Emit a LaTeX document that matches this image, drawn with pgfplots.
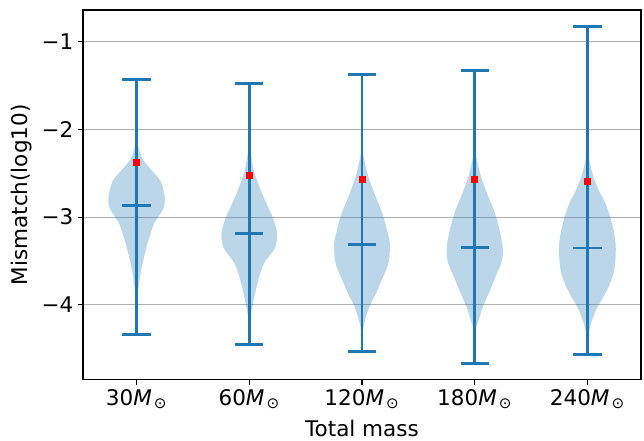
\documentclass[border=0pt]{standalone}
\usepackage{fontspec}
\setmainfont{DejaVu Sans}
\usepackage{pgfplots}
\pgfplotsset{compat=1.18}
\usepackage{pgfplotstable}
\definecolor{c0}{HTML}{1F77B4}
\definecolor{gridgray}{HTML}{B0B0B0}

% violin half-widths (x units) versus value
\pgfplotstableread{
y w
-2.095 0
-2.239 0.024
-2.352 0.060
-2.466 0.134
-2.580 0.208
-2.693 0.238
-2.769 0.250
-2.883 0.244
-2.997 0.193
-3.072 0.155
-3.186 0.125
-3.338 0.089
-3.489 0.060
-3.640 0.036
-3.792 0.018
-3.867 0.006
-3.943 0
}\vA
\pgfplotstableread{
y w
-2.144 0
-2.315 0.018
-2.466 0.039
-2.580 0.068
-2.731 0.113
-2.920 0.179
-3.034 0.217
-3.186 0.247
-3.338 0.232
-3.451 0.173
-3.527 0.131
-3.640 0.098
-3.792 0.065
-3.943 0.039
-4.057 0.021
-4.170 0.006
-4.227 0
}\vB
\pgfplotstableread{
y w
-2.201 0
-2.352 0.021
-2.542 0.057
-2.731 0.110
-2.920 0.170
-3.034 0.199
-3.186 0.229
-3.299 0.247
-3.489 0.241
-3.602 0.214
-3.716 0.176
-3.867 0.125
-3.981 0.080
-4.095 0.045
-4.208 0.021
-4.300 0.006
-4.340 0
}\vC
\pgfplotstableread{
y w
-2.182 0
-2.352 0.021
-2.542 0.057
-2.731 0.110
-2.920 0.170
-3.110 0.214
-3.299 0.244
-3.413 0.250
-3.527 0.235
-3.678 0.185
-3.867 0.125
-4.019 0.074
-4.170 0.036
-4.284 0.006
-4.320 0
}\vD
\pgfplotstableread{
y w
-2.239 0
-2.390 0.024
-2.542 0.054
-2.693 0.101
-2.845 0.161
-2.997 0.202
-3.148 0.232
-3.299 0.250
-3.451 0.250
-3.602 0.238
-3.754 0.202
-3.906 0.143
-4.057 0.077
-4.208 0.033
-4.322 0.012
-4.398 0
}\vE
% pos, extrema, median, mean
\pgfplotstableread{
pos min max med mean
1 -4.341 -1.432 -2.871 -2.375
2 -4.447 -1.481 -3.182 -2.526
3 -4.530 -1.375 -3.310 -2.572
4 -4.663 -1.330 -3.345 -2.565
5 -4.568 -0.830 -3.352 -2.587
}\stats

\begin{document}
\begin{tikzpicture}
\useasboundingbox (-59.8pt,-43.9pt) rectangle (404pt,273.6pt);
\begin{axis}[
  at={(0,0)}, anchor=south west,
  width=401.8pt, height=266.4pt, scale only axis,
  xmin=0.525, xmax=5.475, ymin=-4.855, ymax=-0.64,
  xtick={1,2,3,4,5},
  xticklabels={30\textit{M}\kern1.5pt\textsubscript{⊙},60\textit{M}\kern1.5pt\textsubscript{⊙},120\textit{M}\kern1.5pt\textsubscript{⊙},180\textit{M}\kern1.5pt\textsubscript{⊙},240\textit{M}\kern1.5pt\textsubscript{⊙}},
  ytick={-4,-3,-2,-1},
  yticklabels={−4,−3,−2,−1},
  xtick pos=bottom, ytick pos=left,
  tick align=outside, major tick length=3.5pt,
  every tick/.style={black, line width=0.8pt},
  axis line style={line width=0.8pt},
  ymajorgrids, grid style={gridgray, line width=0.8pt},
  tick label style={font=\fontsize{15.5}{18}\selectfont},
  label style={font=\fontsize{15.5}{18}\selectfont},
  xlabel={Total mass},
  ylabel={Mismatch(log10)},
  xlabel style={yshift=-1pt},
  vb/.style={fill=c0, fill opacity=0.3, draw=none, smooth, tension=0.5},
  vl/.style={c0, line width=2.1pt, mark=none},
]
% violin bodies: each half closed along the centre line
\addplot[vb] table[x expr=1+\thisrow{w}, y=y]{\vA} -- cycle;
\addplot[vb] table[x expr=1-\thisrow{w}, y=y]{\vA} -- cycle;
\addplot[vb] table[x expr=2+\thisrow{w}, y=y]{\vB} -- cycle;
\addplot[vb] table[x expr=2-\thisrow{w}, y=y]{\vB} -- cycle;
\addplot[vb] table[x expr=3+\thisrow{w}, y=y]{\vC} -- cycle;
\addplot[vb] table[x expr=3-\thisrow{w}, y=y]{\vC} -- cycle;
\addplot[vb] table[x expr=4+\thisrow{w}, y=y]{\vD} -- cycle;
\addplot[vb] table[x expr=4-\thisrow{w}, y=y]{\vD} -- cycle;
\addplot[vb] table[x expr=5+\thisrow{w}, y=y]{\vE} -- cycle;
\addplot[vb] table[x expr=5-\thisrow{w}, y=y]{\vE} -- cycle;
% extrema bars, caps and medians
\addplot[vl] coordinates {(1,-4.341) (1,-1.432)};
\addplot[vl] coordinates {(0.875,-4.341) (1.125,-4.341)};
\addplot[vl] coordinates {(0.875,-1.432) (1.125,-1.432)};
\addplot[vl] coordinates {(0.875,-2.871) (1.125,-2.871)};
\addplot[vl] coordinates {(2,-4.447) (2,-1.481)};
\addplot[vl] coordinates {(1.875,-4.447) (2.125,-4.447)};
\addplot[vl] coordinates {(1.875,-1.481) (2.125,-1.481)};
\addplot[vl] coordinates {(1.875,-3.182) (2.125,-3.182)};
\addplot[vl] coordinates {(3,-4.530) (3,-1.375)};
\addplot[vl] coordinates {(2.875,-4.530) (3.125,-4.530)};
\addplot[vl] coordinates {(2.875,-1.375) (3.125,-1.375)};
\addplot[vl] coordinates {(2.875,-3.310) (3.125,-3.310)};
\addplot[vl] coordinates {(4,-4.663) (4,-1.330)};
\addplot[vl] coordinates {(3.875,-4.663) (4.125,-4.663)};
\addplot[vl] coordinates {(3.875,-1.330) (4.125,-1.330)};
\addplot[vl] coordinates {(3.875,-3.345) (4.125,-3.345)};
\addplot[vl] coordinates {(5,-4.568) (5,-0.830)};
\addplot[vl] coordinates {(4.875,-4.568) (5.125,-4.568)};
\addplot[vl] coordinates {(4.875,-0.830) (5.125,-0.830)};
\addplot[vl] coordinates {(4.875,-3.352) (5.125,-3.352)};
% means
\addplot[only marks, mark=square*, mark size=2.2pt, color=red] table[x=pos, y=mean]{\stats};
\end{axis}
\end{tikzpicture}
\end{document}
